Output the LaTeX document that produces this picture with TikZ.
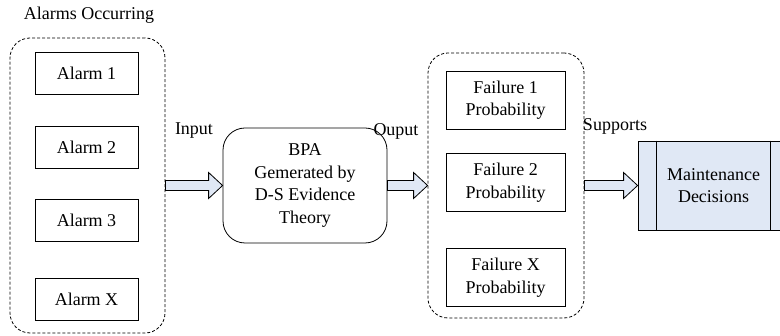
\documentclass[tikz,border=0pt]{standalone}
\usepackage{fontspec}
\setmainfont{Liberation Serif}
\usetikzlibrary{positioning, calc}
\definecolor{paleblue}{RGB}{224,232,245}
% hollow block arrow between two points at the same height
\newcommand{\blockarrow}[2]{%
  \draw[fill=paleblue, line width=0.8pt]
    ($(#1)+(0,-5)$) -- ($(#2)+(-14,-5)$) -- ($(#2)+(-14,-13)$) -- (#2)
    -- ($(#2)+(-14,13)$) -- ($(#2)+(-14,5)$) -- ($(#1)+(0,5)$) -- cycle;}

\begin{document}
\begin{tikzpicture}[
    x=1pt, y=-1pt,
    every node/.style={font=\fontsize{18}{22.5}\selectfont, inner sep=0pt, align=center},
    alarm/.style={draw, line width=0.8pt, minimum width=103pt, minimum height=42pt},
    failure/.style={draw, line width=0.8pt, minimum width=119pt, minimum height=58pt},
    group/.style={draw, dash pattern=on 3pt off 2pt, line width=0.8pt, rounded corners=20pt}
  ]
  \useasboundingbox (0,0) rectangle (780,336);

  % alarms
  \node[group, minimum width=155pt, minimum height=295pt] (alarms) at (87.5,185.5) {};
  \node (title) at (89,15) {Alarms Occurring};
  \node[alarm] (a1) at (86.5,73.5) {Alarm 1};
  \node[alarm] (a2) at (86.5,147) {Alarm 2};
  \node[alarm] (a3) at (86.5,220) {Alarm 3};
  \node[alarm] (ax) at (86.5,299) {Alarm X};

  % evidence theory
  \node[draw, line width=0.8pt, rounded corners=22pt, minimum width=164pt, minimum height=115pt]
    (bpa) at (305,185.5) {BPA\\Gemerated by\\D-S Evidence\\Theory};

  % failures
  \node[group, minimum width=156pt, minimum height=265pt] (failures) at (506,185.5) {};
  \node[failure] (f1) at (505.5,100) {Failure 1\\Probability};
  \node[failure] (f2) at (505.5,182.5) {Failure 2\\Probability};
  \node[failure] (fx) at (505.5,277.5) {Failure X\\Probability};

  % decisions
  \node[draw, line width=0.8pt, fill=paleblue, minimum width=151pt, minimum height=89pt]
    (maint) at (713.5,185.5) {Maintenance\\Decisions};
  \draw[line width=0.8pt] ($(maint.north west)+(19,0)$) -- ($(maint.south west)+(19,0)$);
  \draw[line width=0.8pt] ($(maint.north east)+(-19,0)$) -- ($(maint.south east)+(-19,0)$);

  % arrows and labels
  \blockarrow{alarms.east}{bpa.west}
  \blockarrow{bpa.east}{failures.west}
  \blockarrow{failures.east}{maint.west}
  \node (input) at (194,131) {Input};
  \node (output) at (396,131) {Ouput};
  \node (supports) at (615,126) {Supports};
\end{tikzpicture}
\end{document}
